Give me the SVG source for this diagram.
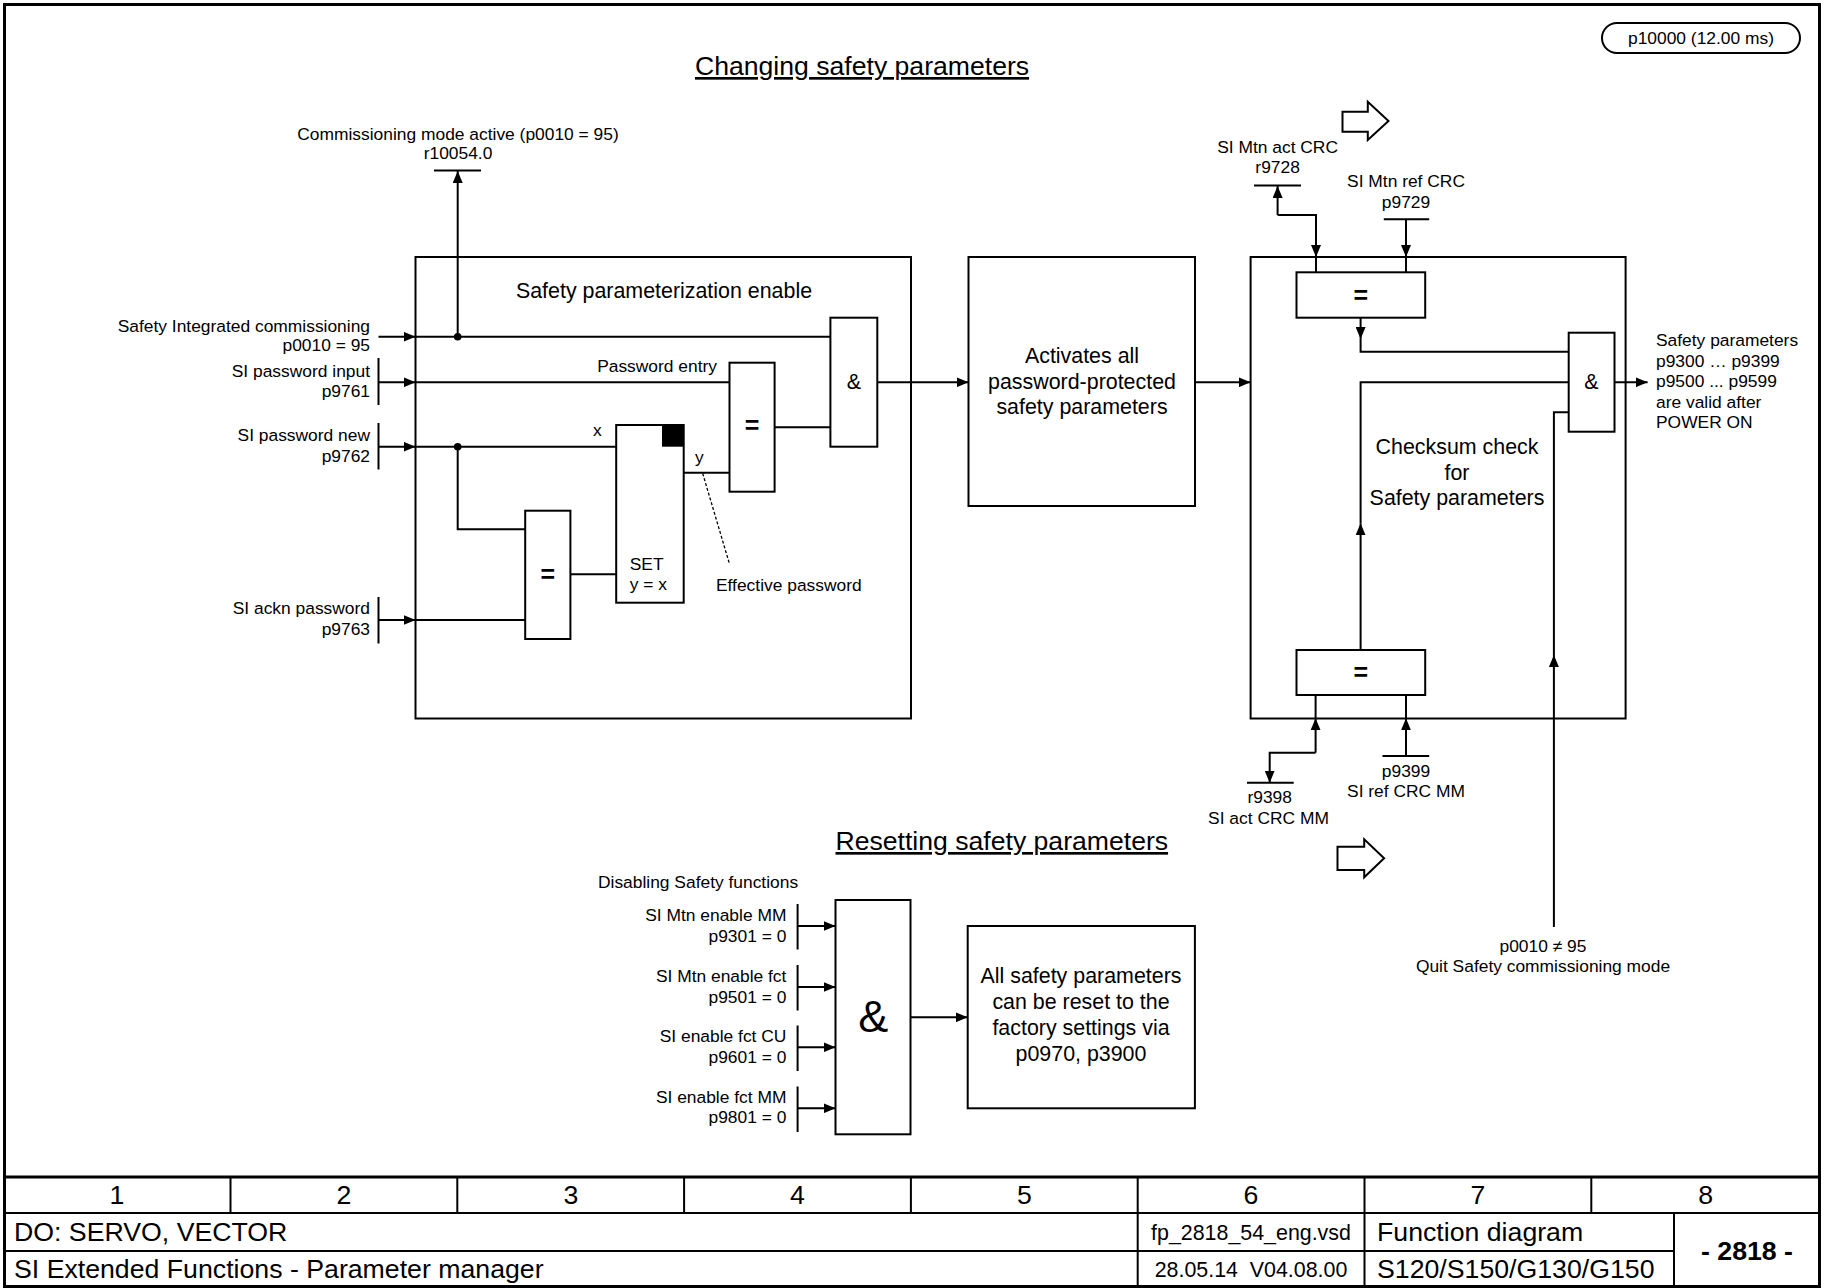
<svg xmlns="http://www.w3.org/2000/svg" width="1825" height="1288" viewBox="0 0 1825 1288">
<style>
.ln{stroke:#000;stroke-width:2;fill:none}
.bx{fill:#fff;stroke:#000;stroke-width:2}
.fr{fill:none;stroke:#000;stroke-width:3}
.dash{stroke:#000;stroke-width:1.3;stroke-dasharray:3,2;fill:none}
text{font-family:"Liberation Sans",Arial,sans-serif;fill:#000}
.s{font-size:17.4px}
.m{font-size:21.4px}
.l{font-size:26.7px}
.t{font-size:26.6px}
.eq{font-size:25px;font-weight:bold;text-anchor:middle}
.c{text-anchor:middle}
.r{text-anchor:end}
.b{font-weight:bold}
</style>
<defs>
<marker id="ar" markerUnits="userSpaceOnUse" markerWidth="12" markerHeight="10" refX="12" refY="5" orient="auto">
<path d="M0,0 L12,5 L0,10 z" fill="#000"/>
</marker>
</defs>
<rect x="0" y="0" width="1825" height="1288" fill="#fff"/>

<!-- frame and footer -->
<g id="frame">
<rect class="fr" x="4.5" y="4.5" width="1815" height="1282"/>
<line class="fr" x1="4" y1="1177" x2="1820" y2="1177"/>
<line class="ln" x1="4" y1="1213" x2="1820" y2="1213"/>
<line class="ln" x1="4" y1="1251" x2="1674" y2="1251"/>
<path class="ln" d="M230.5,1177V1213 M457.3,1177V1213 M684.1,1177V1213 M910.9,1177V1213 M1137.7,1177V1288 M1364.5,1177V1288 M1591.3,1177V1213 M1674,1213V1288"/>
<text class="l c" x="117" y="1204">1</text>
<text class="l c" x="344" y="1204">2</text>
<text class="l c" x="571" y="1204">3</text>
<text class="l c" x="797.5" y="1204">4</text>
<text class="l c" x="1024.3" y="1204">5</text>
<text class="l c" x="1251" y="1204">6</text>
<text class="l c" x="1478" y="1204">7</text>
<text class="l c" x="1705.7" y="1204">8</text>
<text class="l" x="14" y="1241">DO: SERVO, VECTOR</text>
<text class="l" x="14" y="1278">SI Extended Functions - Parameter manager</text>
<text class="m c" x="1251" y="1240">fp_2818_54_eng.vsd</text>
<text class="m c" x="1251" y="1277" xml:space="preserve">28.05.14  V04.08.00</text>
<text class="l" x="1377" y="1241">Function diagram</text>
<text class="l" x="1377" y="1278">S120/S150/G130/G150</text>
<text class="l c b" x="1747" y="1260">- 2818 -</text>
</g>

<g id="cycle">
<rect class="bx" x="1602" y="23" width="198" height="30" rx="15"/>
<text class="s c" x="1701" y="44">p10000 (12.00 ms)</text>
</g>

<g id="titles">
<text class="t" x="695" y="75" text-decoration="underline">Changing safety parameters</text>
<text class="t" x="835.5" y="850" text-decoration="underline">Resetting safety parameters</text>
</g>

<g id="hollow-arrows">
<polygon class="bx" points="1342.5,111.7 1367.8,111.7 1367.8,101.7 1388.5,121 1367.8,140 1367.8,131.7 1342.5,131.7"/>
<polygon class="bx" points="1337.5,846.7 1364.2,846.7 1364.2,839.3 1384.1,858.3 1364.2,877.3 1364.2,870 1337.5,870"/>
</g>

<!-- blocks -->
<g id="block-enable">
<rect class="bx" x="415.5" y="257" width="495.5" height="461.5"/>
<text class="m c" x="664" y="298">Safety parameterization enable</text>
</g>
<g id="block-activate">
<rect class="bx" x="968.5" y="257" width="226.5" height="249"/>
<text class="m c" x="1082" y="363">Activates all</text>
<text class="m c" x="1082" y="388.5">password-protected</text>
<text class="m c" x="1082" y="414">safety parameters</text>
</g>
<g id="block-checksum">
<rect class="bx" x="1250.6" y="257" width="375" height="461.5"/>
<text class="m c" x="1457" y="454">Checksum check</text>
<text class="m c" x="1457" y="479.5">for</text>
<text class="m c" x="1457" y="505">Safety parameters</text>
</g>

<!-- connectors -->
<g id="connectors">
<!-- r10054.0 -->
<line class="ln" x1="434" y1="170.5" x2="481" y2="170.5"/>
<path class="ln" d="M457.7,336.7V171" marker-end="url(#ar)"/>
<circle cx="457.7" cy="336.7" r="3.8" fill="#000"/>
<!-- inputs left -->
<path class="ln" d="M378.5,336.7H415.5" marker-end="url(#ar)"/>
<path class="ln" d="M415.5,336.7H830.4"/>
<line class="ln" x1="378.5" y1="358" x2="378.5" y2="405"/>
<path class="ln" d="M378.5,382.3H415.5" marker-end="url(#ar)"/>
<path class="ln" d="M415.5,382.3H729.5"/>
<line class="ln" x1="378.5" y1="423" x2="378.5" y2="469.5"/>
<path class="ln" d="M378.5,446.7H415.5" marker-end="url(#ar)"/>
<path class="ln" d="M415.5,446.7H616.2"/>
<circle cx="457.7" cy="446.7" r="3.8" fill="#000"/>
<path class="ln" d="M457.7,446.7V529.3H525.2"/>
<line class="ln" x1="378.5" y1="597" x2="378.5" y2="643.5"/>
<path class="ln" d="M378.5,620H415.5" marker-end="url(#ar)"/>
<path class="ln" d="M415.5,620H525.2"/>
<path class="ln" d="M570.4,574.3H616.2"/>
<path class="ln" d="M683.7,472.7H729.5"/>
<path class="ln" d="M774.6,427.3H830.4"/>
<path class="dash" d="M702.7,473.5L729.3,563.3"/>
<!-- block to block -->
<path class="ln" d="M877.3,382.3H968.5" marker-end="url(#ar)"/>
<path class="ln" d="M1195,382.3H1250.6" marker-end="url(#ar)"/>
<path class="ln" d="M1614.5,382.3H1647.6" marker-end="url(#ar)"/>
<!-- top compare inputs -->
<line class="ln" x1="1254" y1="185.5" x2="1301" y2="185.5"/>
<path class="ln" d="M1277.6,215V186" marker-end="url(#ar)"/>
<path class="ln" d="M1277.6,215H1316V257" marker-end="url(#ar)"/>
<path class="ln" d="M1316,257V272.3"/>
<line class="ln" x1="1383.8" y1="219.3" x2="1429.2" y2="219.3"/>
<path class="ln" d="M1406,219.3V257" marker-end="url(#ar)"/>
<path class="ln" d="M1406,257V272.3"/>
<!-- top compare output -->
<path class="ln" d="M1360.6,317.7V339" marker-end="url(#ar)"/>
<path class="ln" d="M1360.6,339V351.7H1568.7"/>
<!-- bottom compare output -->
<path class="ln" d="M1360.6,650V523.3" marker-end="url(#ar)"/>
<path class="ln" d="M1360.6,523.3V382.3H1568.7"/>
<!-- p0010 != 95 -->
<path class="ln" d="M1553.9,927V655" marker-end="url(#ar)"/>
<path class="ln" d="M1553.9,655V412.3H1568.7"/>
<!-- bottom compare inputs -->
<path class="ln" d="M1315.6,752.7V718.3" marker-end="url(#ar)"/>
<path class="ln" d="M1315.6,718.3V695"/>
<path class="ln" d="M1315.6,752.7H1269.7V782.7" marker-end="url(#ar)"/>
<line class="ln" x1="1247" y1="782.7" x2="1293.7" y2="782.7"/>
<line class="ln" x1="1382.5" y1="756" x2="1429.2" y2="756"/>
<path class="ln" d="M1406,756V718.3" marker-end="url(#ar)"/>
<path class="ln" d="M1406,718.3V695"/>
<!-- reset section -->
<line class="ln" x1="797.6" y1="904" x2="797.6" y2="949.5"/>
<path class="ln" d="M797.6,926H835.5" marker-end="url(#ar)"/>
<line class="ln" x1="797.6" y1="965" x2="797.6" y2="1010.5"/>
<path class="ln" d="M797.6,987H835.5" marker-end="url(#ar)"/>
<line class="ln" x1="797.6" y1="1025.5" x2="797.6" y2="1071"/>
<path class="ln" d="M797.6,1047.3H835.5" marker-end="url(#ar)"/>
<line class="ln" x1="797.6" y1="1086.5" x2="797.6" y2="1132"/>
<path class="ln" d="M797.6,1108.3H835.5" marker-end="url(#ar)"/>
<path class="ln" d="M910.5,1017.3H967.7" marker-end="url(#ar)"/>
</g>

<!-- gates -->
<g id="eq-ack">
<rect class="bx" x="525.2" y="510.7" width="45.2" height="128.3"/>
<text class="eq" x="547.8" y="582.8">=</text>
</g>
<g id="set-block">
<rect class="bx" x="616.2" y="425" width="67.5" height="177.7"/>
<rect x="662" y="426" width="21.7" height="20.7" fill="#000"/>
<text class="s" x="629.7" y="570">SET</text>
<text class="s" x="629.7" y="590">y = x</text>
</g>
<g id="eq-pass">
<rect class="bx" x="729.5" y="362.7" width="45.1" height="129"/>
<text class="eq" x="752" y="434.2">=</text>
</g>
<g id="and-enable">
<rect class="bx" x="830.4" y="317.7" width="46.9" height="129"/>
<text class="m c" x="853.9" y="388.5">&amp;</text>
</g>
<g id="eq-top">
<rect class="bx" x="1296.5" y="272.3" width="128.7" height="45.4"/>
<text class="eq" x="1360.8" y="303.5">=</text>
</g>
<g id="eq-bottom">
<rect class="bx" x="1296.5" y="650" width="128.7" height="45"/>
<text class="eq" x="1360.8" y="680.8">=</text>
</g>
<g id="and-check">
<rect class="bx" x="1568.7" y="332.7" width="45.8" height="99"/>
<text class="m c" x="1591.4" y="388.5">&amp;</text>
</g>
<g id="and-reset">
<rect class="bx" x="835.5" y="900" width="75" height="234.3"/>
<text class="c" style="font-size:45px" x="873.3" y="1031.5">&amp;</text>
</g>
<g id="block-reset">
<rect class="bx" x="967.7" y="926" width="227.2" height="182.3"/>
<text class="m c" x="1081" y="983.3">All safety parameters</text>
<text class="m c" x="1081" y="1009">can be reset to the</text>
<text class="m c" x="1081" y="1035">factory settings via</text>
<text class="m c" x="1081" y="1060.7">p0970, p3900</text>
</g>

<!-- labels -->
<g id="labels">
<text class="s c" x="458" y="140">Commissioning mode active (p0010 = 95)</text>
<text class="s c" x="458" y="159">r10054.0</text>
<text class="s r" x="370" y="331.7">Safety Integrated commissioning</text>
<text class="s r" x="370" y="351">p0010 = 95</text>
<text class="s r" x="370" y="376.7">SI password input</text>
<text class="s r" x="370" y="397">p9761</text>
<text class="s r" x="370" y="441">SI password new</text>
<text class="s r" x="370" y="461.7">p9762</text>
<text class="s r" x="370" y="614">SI ackn password</text>
<text class="s r" x="370" y="635">p9763</text>
<text class="s r" x="717" y="372">Password entry</text>
<text class="s" x="593" y="436">x</text>
<text class="s" x="695" y="463">y</text>
<text class="s" x="716" y="591">Effective password</text>
<text class="s c" x="1277.6" y="153.3">SI Mtn act CRC</text>
<text class="s c" x="1277.6" y="173.3">r9728</text>
<text class="s c" x="1406" y="186.7">SI Mtn ref CRC</text>
<text class="s c" x="1406" y="208.3">p9729</text>
<text class="s" x="1656" y="346">Safety parameters</text>
<text class="s" x="1656" y="366.5">p9300 … p9399</text>
<text class="s" x="1656" y="387">p9500 ... p9599</text>
<text class="s" x="1656" y="407.5">are valid after</text>
<text class="s" x="1656" y="428">POWER ON</text>
<text class="s c" x="1269.7" y="803.3">r9398</text>
<text class="s c" x="1268.5" y="824">SI act CRC MM</text>
<text class="s c" x="1406" y="777.3">p9399</text>
<text class="s c" x="1406" y="796.7">SI ref CRC MM</text>
<text class="s c" x="1543" y="951.7">p0010 ≠ 95</text>
<text class="s c" x="1543" y="971.7">Quit Safety commissioning mode</text>
<text class="s" x="598" y="888">Disabling Safety functions</text>
<text class="s r" x="786.4" y="920.7">SI Mtn enable MM</text>
<text class="s r" x="786.4" y="941.7">p9301 = 0</text>
<text class="s r" x="786.4" y="981.7">SI Mtn enable fct</text>
<text class="s r" x="786.4" y="1002.7">p9501 = 0</text>
<text class="s r" x="786.4" y="1041.7">SI enable fct CU</text>
<text class="s r" x="786.4" y="1062.7">p9601 = 0</text>
<text class="s r" x="786.4" y="1102.7">SI enable fct MM</text>
<text class="s r" x="786.4" y="1123.3">p9801 = 0</text>
</g>
</svg>
